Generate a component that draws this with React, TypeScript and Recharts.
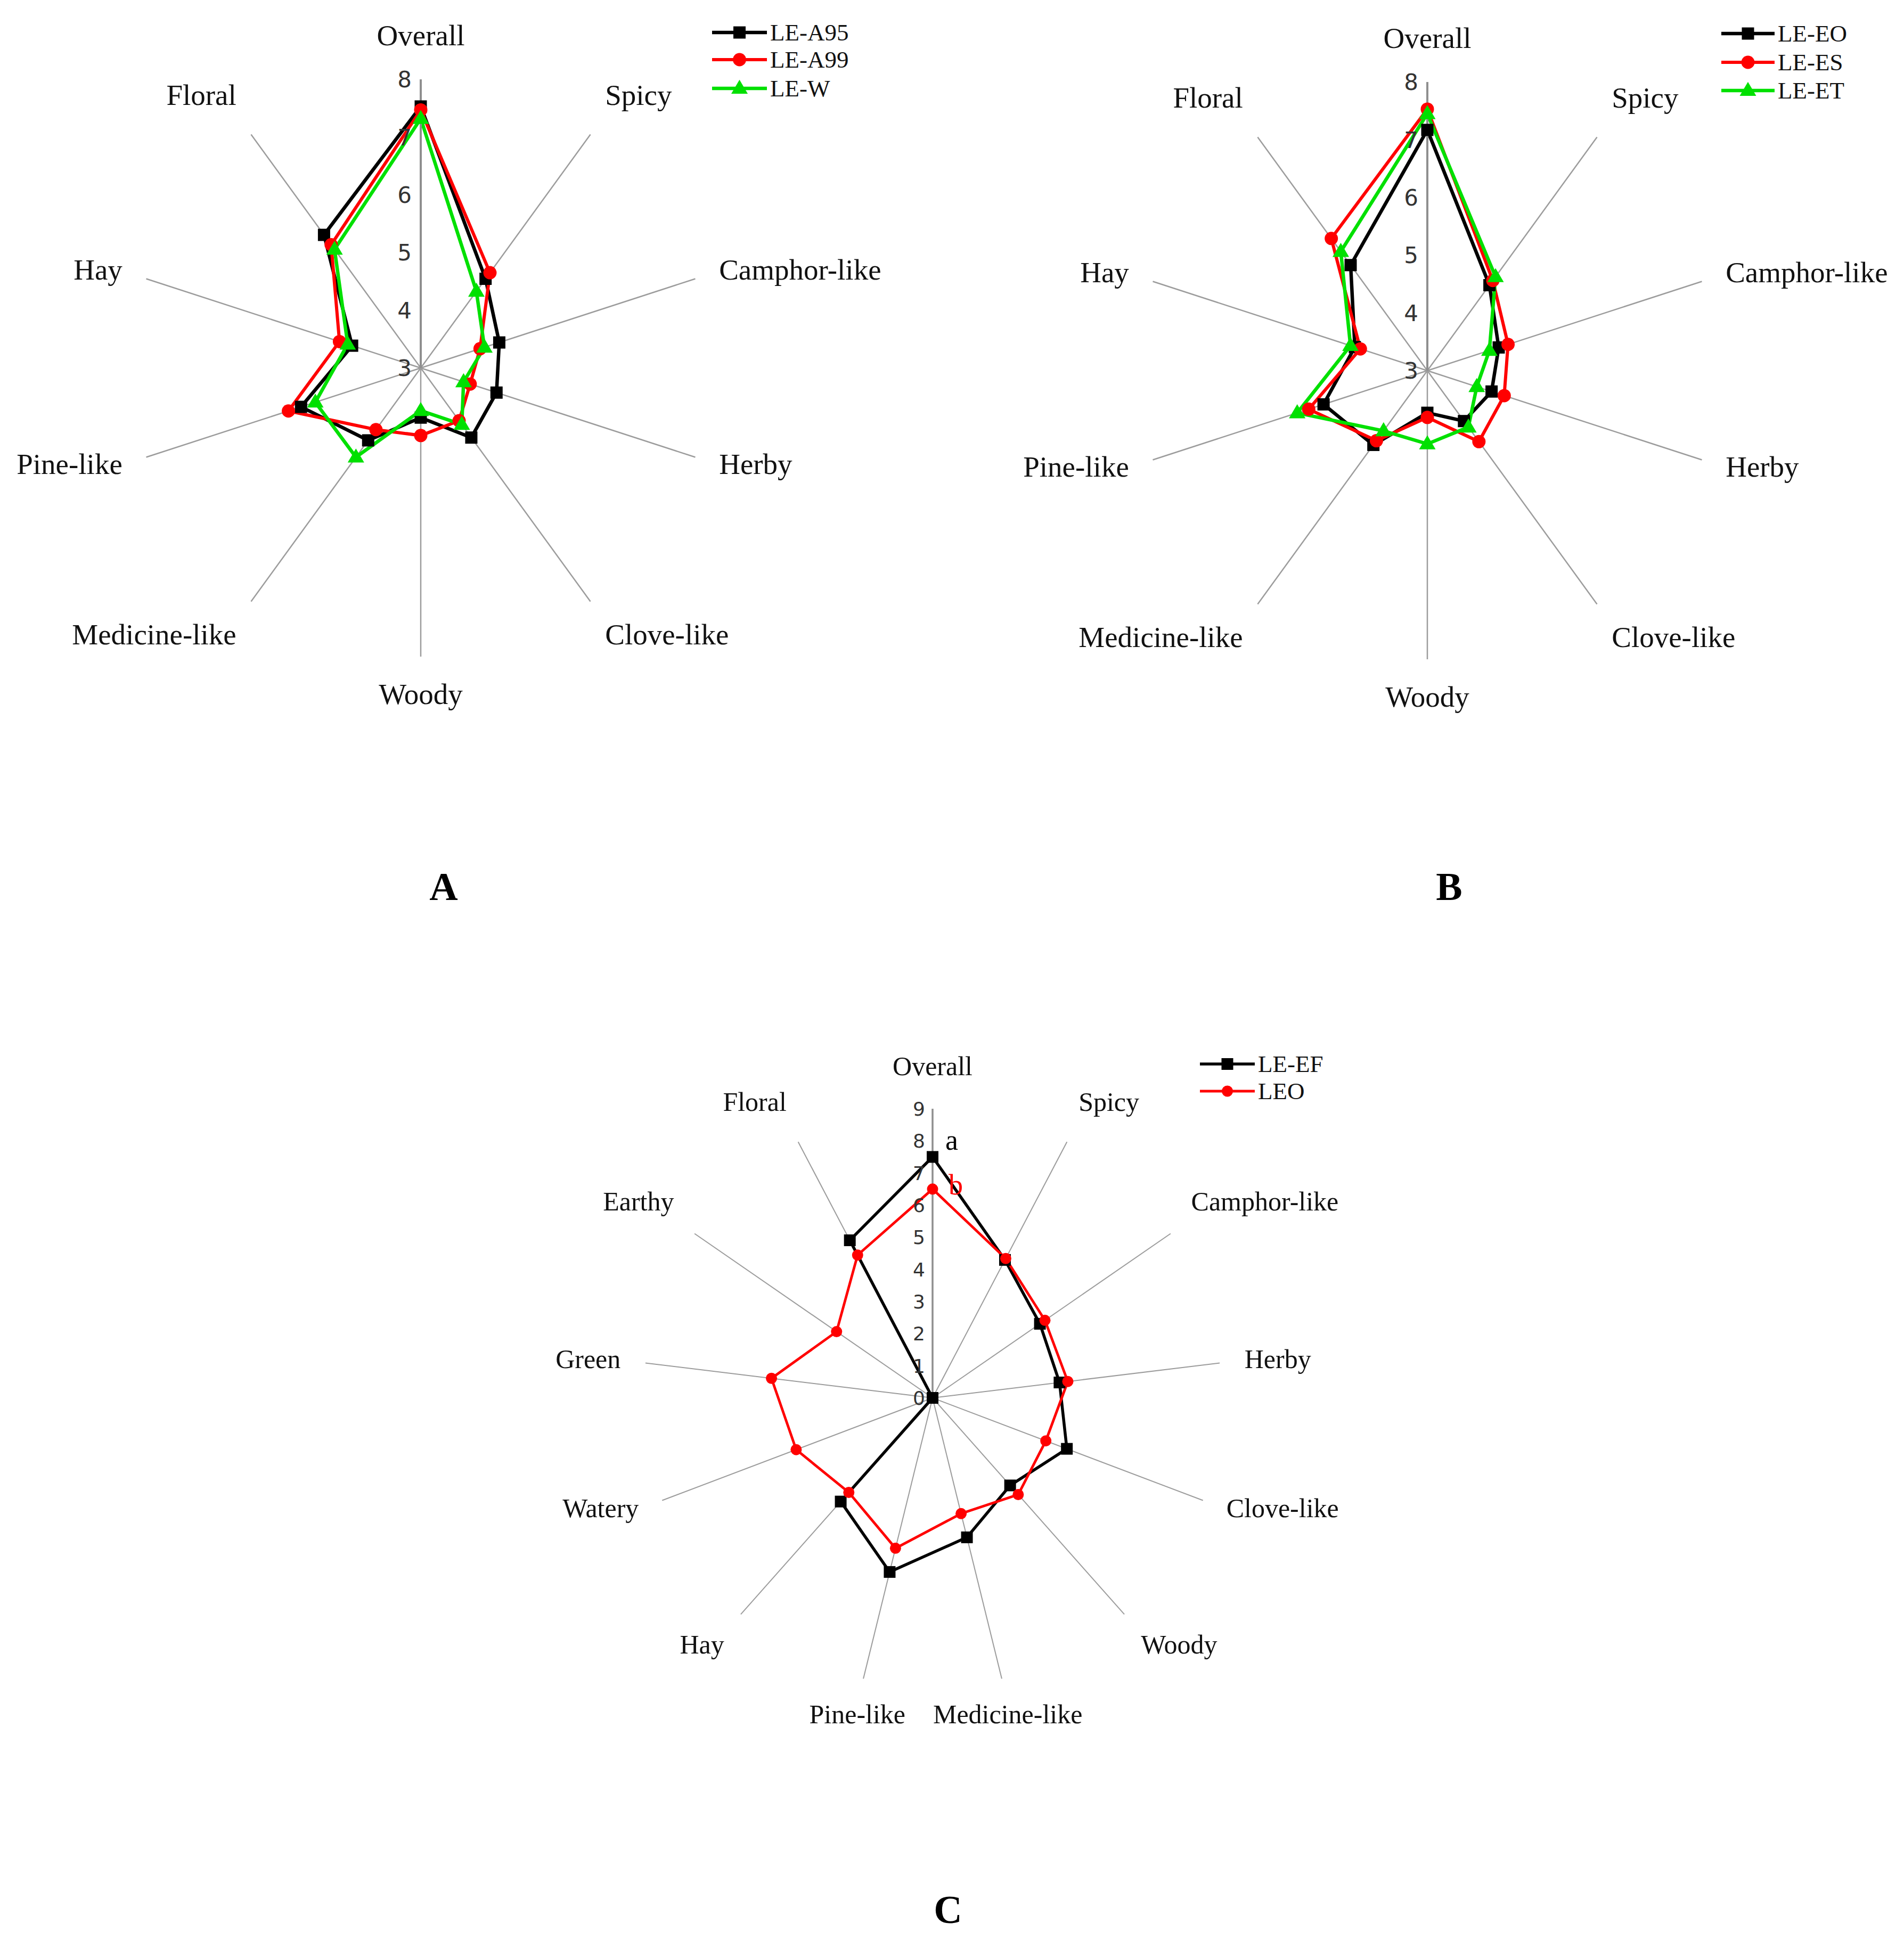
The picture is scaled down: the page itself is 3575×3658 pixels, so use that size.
import React from "react";
import {
  Legend,
  PolarAngleAxis,
  PolarGrid,
  PolarRadiusAxis,
  Radar,
  RadarChart,
} from "recharts";

// panels A and B share the same 10 attributes
const categoriesAB = [
  "Overall",
  "Spicy",
  "Camphor-like",
  "Herby",
  "Clove-like",
  "Woody",
  "Medicine-like",
  "Pine-like",
  "Hay",
  "Floral",
];
const leA95 = [7.53, 4.91, 4.43, 4.38, 4.49, 3.86, 4.55, 5.18, 4.25, 5.85];
const leA99 = [7.47, 5.04, 4.08, 3.9, 4.13, 4.17, 4.32, 5.41, 4.48, 5.64];
const leW = [7.32, 4.64, 4.16, 3.78, 4.21, 3.74, 4.91, 4.92, 4.33, 5.54];

const leEO = [7.17, 4.83, 4.3, 4.17, 4.08, 3.73, 4.59, 4.89, 4.32, 5.26];
const leES = [7.53, 4.93, 4.47, 4.4, 4.52, 3.81, 4.5, 5.16, 4.22, 5.83];
const leET = [7.45, 5.01, 4.13, 3.9, 4.21, 4.27, 4.29, 5.37, 4.4, 5.55];

// panel C has 13 attributes
const categoriesC = [
  "Overall",
  "Spicy",
  "Camphor-like",
  "Herby",
  "Clove-like",
  "Woody",
  "Medicine-like",
  "Pine-like",
  "Hay",
  "Watery",
  "Green",
  "Earthy",
  "Floral",
];
const leEF = [7.5, 4.85, 4.06, 3.98, 4.47, 3.64, 4.47, 5.58, 4.31, 0, 0, 0, 5.54];
const leo = [6.5, 4.9, 4.25, 4.24, 3.77, 4.02, 3.71, 4.82, 3.93, 4.54, 5.05, 3.63, 5.02];

const domainAB: [number, number] = [3, 8];
const domainC: [number, number] = [0, 9];

type Shape = "square" | "circle" | "triangle";

interface SeriesDef {
  key: string;
  name: string;
  values: number[];
  color: string;
  shape: Shape;
  width: number;
  size: number;
  note?: string;
}

const seriesA: SeriesDef[] = [
  { key: "a95", name: "LE-A95", values: leA95, color: "#000000", shape: "square", width: 6.5, size: 23 },
  { key: "a99", name: "LE-A99", values: leA99, color: "#FF0000", shape: "circle", width: 6, size: 25 },
  { key: "w", name: "LE-W", values: leW, color: "#00E000", shape: "triangle", width: 6.5, size: 31 },
];
const seriesB: SeriesDef[] = [
  { key: "eo", name: "LE-EO", values: leEO, color: "#000000", shape: "square", width: 6.5, size: 23 },
  { key: "es", name: "LE-ES", values: leES, color: "#FF0000", shape: "circle", width: 6, size: 25 },
  { key: "et", name: "LE-ET", values: leET, color: "#00E000", shape: "triangle", width: 6.5, size: 31 },
];
const seriesC: SeriesDef[] = [
  { key: "ef", name: "LE-EF", values: leEF, color: "#000000", shape: "square", width: 5.5, size: 22, note: "a" },
  { key: "leo", name: "LEO", values: leo, color: "#FF0000", shape: "circle", width: 4.8, size: 21, note: "b" },
];

function buildRows(categories: string[], series: SeriesDef[]) {
  return categories.map((name, i) => {
    const row: Record<string, string | number> = { name };
    series.forEach((s) => {
      row[s.key] = s.values[i];
    });
    return row;
  });
}

function Marker({ shape, x, y, color, size }: { shape: Shape; x: number; y: number; color: string; size: number }) {
  if (shape === "square") {
    return <rect x={x - size / 2} y={y - size / 2} width={size} height={size} fill={color} />;
  }
  if (shape === "circle") {
    return <circle cx={x} cy={y} r={size / 2} fill={color} />;
  }
  const h = size * 0.85;
  return (
    <polygon
      points={`${x},${y - h * 0.62} ${x - size / 2},${y + h * 0.38} ${x + size / 2},${y + h * 0.38}`}
      fill={color}
    />
  );
}

interface PanelProps {
  left: number;
  top: number;
  width: number;
  height: number;
  cx: number;
  cy: number;
  radius: number;
  categories: string[];
  series: SeriesDef[];
  domain: [number, number];
  tickCount: number;
  labelSize: number;
  tickSize: number;
  tickGap: number;
  spokeWidth: number;
  legend: { x1: number; x2: number; rows: number[]; font: number };
}

function RadarPanel(p: PanelProps) {
  const data = buildRows(p.categories, p.series);
  const labelR = p.radius + 47;

  const angleTick = (props: any) => {
    const { payload } = props;
    const a = (payload.coordinate * Math.PI) / 180;
    const sx = Math.cos(a);
    const sy = Math.sin(a);
    const px = p.cx + labelR * sx;
    const py = p.cy - labelR * sy;
    const anchor = sx > 0.3 ? "start" : sx < -0.3 ? "end" : "middle";
    const hh = 0.47 * p.labelSize;
    const mid = sy > 0.4 ? py - hh - 8 : sy < -0.4 ? py + hh : py;
    return (
      <text
        x={px}
        y={mid + 0.3 * p.labelSize}
        textAnchor={anchor}
        fontSize={p.labelSize}
        fontFamily="'Liberation Serif', 'Times New Roman', serif"
        fill="#111111"
      >
        {payload.value}
      </text>
    );
  };

  const radiusTick = (props: any) => (
    <text
      x={props.x - p.tickGap}
      y={props.y}
      dy="0.36em"
      textAnchor="end"
      fontSize={p.tickSize}
      fontFamily="'DejaVu Sans', Verdana, sans-serif"
      fill="#333333"
    >
      {props.payload.value}
    </text>
  );

  const dotFor = (s: SeriesDef) => (props: any) => (
    <g key={`${s.key}-${props.index}`}>
      <Marker shape={s.shape} x={props.cx} y={props.cy} color={s.color} size={s.size} />
      {s.note && props.index === 0 ? (
        <text
          x={props.cx + (s.note === "a" ? 24 : 30)}
          y={props.cy + (s.note === "a" ? -14 : 10)}
          fontSize={54}
          fontFamily="'Liberation Serif', 'Times New Roman', serif"
          fill={s.color}
        >
          {s.note}
        </text>
      ) : null}
    </g>
  );

  const lg = p.legend;
  const legendW = lg.x2 - lg.x1 + 200;
  const legendTop = lg.rows[0] - 40;
  const legendH = lg.rows[lg.rows.length - 1] - legendTop + 40;

  const renderLegend = () => (
    <svg width={legendW} height={legendH} style={{ display: "block", overflow: "visible" }}>
      {p.series.map((s, i) => {
        const y = lg.rows[i] - legendTop;
        const mid = (lg.x2 - lg.x1) / 2;
        return (
          <g key={s.key}>
            <line x1={0} x2={lg.x2 - lg.x1} y1={y} y2={y} stroke={s.color} strokeWidth={s.width} />
            <Marker shape={s.shape} x={mid} y={y} color={s.color} size={s.size} />
            <text
              x={lg.x2 - lg.x1 + 6}
              y={y + 0.33 * lg.font}
              fontSize={lg.font}
              fontFamily="'Liberation Serif', 'Times New Roman', serif"
              fill="#111111"
            >
              {s.name}
            </text>
          </g>
        );
      })}
    </svg>
  );

  return (
    <div style={{ position: "absolute", left: p.left, top: p.top, width: p.width, height: p.height }}>
      <RadarChart
        width={p.width}
        height={p.height}
        data={data}
        cx={p.cx}
        cy={p.cy}
        outerRadius={p.radius}
        margin={{ top: 0, right: 0, bottom: 0, left: 0 }}
        style={{ overflow: "visible" }}
      >
        <PolarGrid polarRadius={[]} stroke="#9c9c9c" strokeWidth={p.spokeWidth} />
        <PolarAngleAxis dataKey="name" tick={angleTick} tickLine={false} axisLine={false} />
        <PolarRadiusAxis
          angle={90}
          domain={p.domain}
          tickCount={p.tickCount}
          tick={radiusTick}
          axisLine={{ stroke: "#8f8f8f", strokeWidth: p.spokeWidth + 1.5 }}
          tickLine={false}
        />
        {p.series.map((s) => (
          <Radar
            key={s.key}
            dataKey={s.key}
            name={s.name}
            stroke={s.color}
            strokeWidth={s.width}
            fill="none"
            fillOpacity={0}
            dot={dotFor(s)}
            activeDot={false}
            isAnimationActive={false}
          />
        ))}
        <Legend
          content={renderLegend}
          wrapperStyle={{ left: lg.x1, top: legendTop, width: legendW, height: legendH }}
        />
      </RadarChart>
    </div>
  );
}

export default function App() {
  const letterStyle = {
    fontSize: 74,
    fontWeight: 700,
    fontFamily: "'Liberation Serif', 'Times New Roman', serif",
  };
  return (
    <div
      style={{
        position: "absolute",
        left: 0,
        top: 0,
        width: 3575,
        height: 3658,
        background: "#ffffff",
        overflow: "hidden",
      }}
    >
      <RadarPanel
        left={0}
        top={0}
        width={1790}
        height={1450}
        cx={790}
        cy={691}
        radius={542}
        categories={categoriesAB}
        series={seriesA}
        domain={domainAB}
        tickCount={6}
        labelSize={55}
        tickSize={42}
        tickGap={17}
        spokeWidth={2.5}
        legend={{ x1: 1337, x2: 1440, rows: [61, 112, 166], font: 45 }}
      />
      <RadarPanel
        left={1790}
        top={0}
        width={1785}
        height={1450}
        cx={890}
        cy={696}
        radius={542}
        categories={categoriesAB}
        series={seriesB}
        domain={domainAB}
        tickCount={6}
        labelSize={55}
        tickSize={42}
        tickGap={17}
        spokeWidth={2.5}
        legend={{ x1: 1442, x2: 1542, rows: [63, 117, 170], font: 45 }}
      />
      <RadarPanel
        left={900}
        top={1880}
        width={1800}
        height={1450}
        cx={851}
        cy={745}
        radius={543}
        categories={categoriesC}
        series={seriesC}
        domain={domainC}
        tickCount={10}
        labelSize={50}
        tickSize={36}
        tickGap={14}
        spokeWidth={2}
        legend={{ x1: 1353, x2: 1456, rows: [118, 169], font: 45 }}
      />
      <svg
        width={3575}
        height={3658}
        style={{ position: "absolute", left: 0, top: 0, pointerEvents: "none" }}
      >
        <text x={833} y={1690} textAnchor="middle" style={letterStyle}>
          A
        </text>
        <text x={2721} y={1690} textAnchor="middle" style={letterStyle}>
          B
        </text>
        <text x={1780} y={3611} textAnchor="middle" style={letterStyle}>
          C
        </text>
      </svg>
    </div>
  );
}
